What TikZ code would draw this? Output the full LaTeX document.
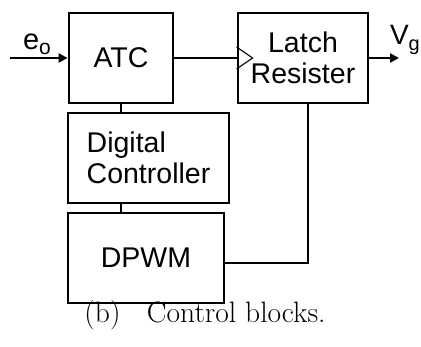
\documentclass[tikz,border=0pt]{standalone}
\usepackage{fontspec}
\setsansfont{Liberation Sans}
\usetikzlibrary{arrows.meta}
\tikzset{
  blk/.style={draw,line width=2.8pt,inner sep=0pt,font=\sffamily\fontsize{28.5}{31.5}\selectfont},
  wire/.style={line width=2.6pt},
  arr/.style={wire,-{Triangle[length=9pt,width=9pt]}}
}
\begin{document}
\begin{tikzpicture}[x=1pt,y=-1pt]
    \useasboundingbox (0,0) rectangle (421,347);
    % Blocks
    \node[blk,minimum width=104pt,minimum height=90pt] (atc) at (121,58) {ATC};
    \node[blk,minimum width=130pt,minimum height=90pt,align=center] (latch) at (303,58) {Latch\\Resister};
    \node[blk,minimum width=161pt,minimum height=90pt,align=left] (dc) at (148.5,158) {Digital\\Controller};
    \node[blk,minimum width=156pt,minimum height=90pt] (dpwm) at (146,258) {DPWM};
    % Clock input
    \draw[line width=1.1pt] (latch.west) ++(0,-11) -- ++(16,11) -- ++(-16,11);
    % Wires
    \coordinate (in) at (10,58);
    \coordinate (out) at (399,58);
    \draw[arr] (in) -- (atc.west);
    \draw[wire] (atc.east) -- (latch.west);
    \draw[arr] (latch.east) -- (out);
    \draw[wire] (atc.south) -- (dc.north -| atc.south);
    \draw[wire] (dc.south -| atc.south) -- (dpwm.north -| atc.south);
    \draw[wire] ([xshift=5pt]latch.south) |- ([yshift=-5pt]dpwm.east);
    % Labels
    \node[font=\sffamily\fontsize{29}{30}\selectfont] (eo) at (37,44) {e\raisebox{-0.35ex}{\fontsize{21}{21}\selectfont o}};
    \node[font=\sffamily\fontsize{28}{30}\selectfont,anchor=east,inner sep=1pt] (vg) at (421,40) {V\raisebox{-0.45ex}{\fontsize{20}{20}\selectfont g}};
    \node[font=\fontsize{29.5}{32}\selectfont,anchor=base] (cap) at (205,323) {(b)\hspace{0.9em}Control blocks.};
\end{tikzpicture}
\end{document}
